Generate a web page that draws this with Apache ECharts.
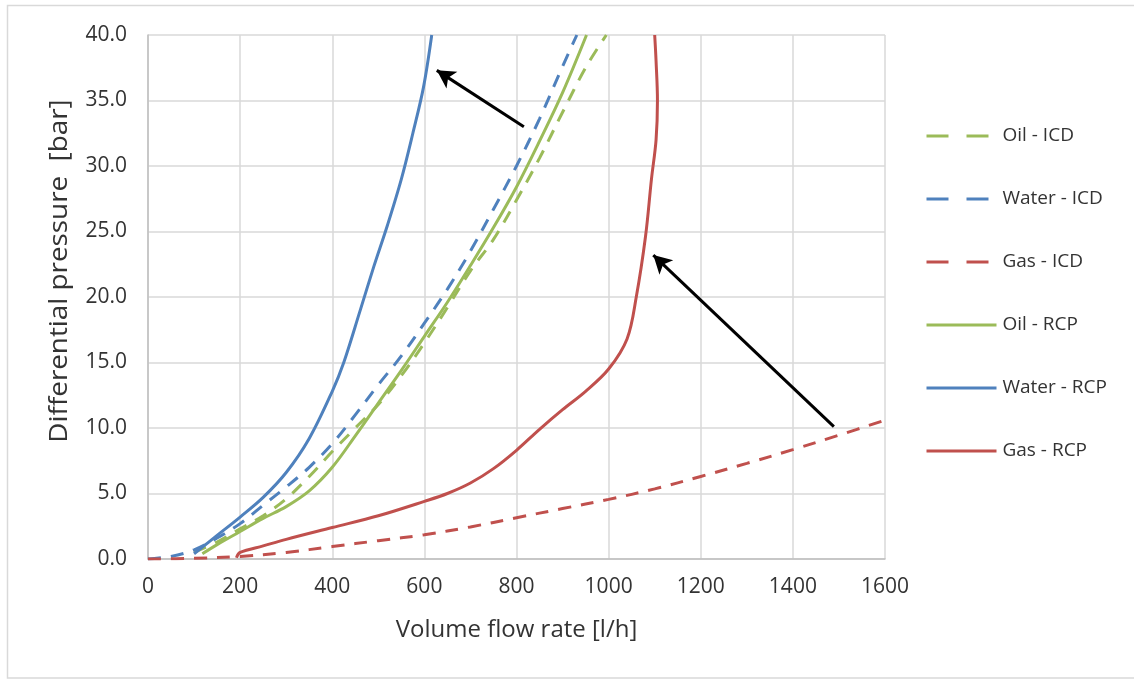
<!DOCTYPE html>
<html>
<head>
<meta charset="utf-8">
<script src="https://cdn.jsdelivr.net/npm/echarts@6/dist/echarts.min.js"></script>
<style>
  html, body { margin: 0; padding: 0; background: #ffffff; }
  #chart { width: 1134px; height: 680px; }
</style>
</head>
<body>
<div id="chart"></div>
<script>
// Volume flow rate [l/h] vs differential pressure [bar]
const oilICD = [[100,0.5],[150,1.3],[200,2.3],[250,3.3],[300,4.6],[350,6.3],[400,8.2],[450,10.0],[500,11.8],[550,14.0],[600,16.5],[650,19.2],[700,22.0],[750,24.4],[800,27.4],[850,30.6],[900,34.1],[950,37.5],[995,40.0]];
const waterICD = [[0,0],[50,0.2],[100,0.7],[150,1.6],[200,2.7],[250,4.1],[300,5.5],[350,7.0],[400,8.8],[450,11.0],[500,13.3],[550,15.5],[600,18.0],[650,20.6],[700,23.5],[750,26.7],[800,30.0],[850,33.6],[900,37.6],[931,40.0]];
const gasICD = [[0,0],[100,0.05],[200,0.2],[300,0.5],[400,0.95],[500,1.4],[600,1.85],[700,2.45],[800,3.15],[900,3.85],[1000,4.55],[1100,5.35],[1200,6.3],[1300,7.3],[1400,8.35],[1500,9.45],[1600,10.6]];
const oilRCP = [[118,0.4],[150,1.1],[200,2.1],[250,3.1],[300,4.0],[350,5.2],[400,7.0],[450,9.4],[500,11.9],[550,14.4],[600,17.0],[650,19.6],[700,22.4],[750,25.3],[800,28.4],[850,31.9],[900,35.6],[952,40.0]];
const waterRCP = [[100,0.4],[150,1.8],[200,3.2],[250,4.7],[300,6.6],[350,9.2],[400,12.8],[425,15.0],[460,18.9],[490,22.3],[520,25.5],[550,29.0],[575,32.5],[598,36.0],[616,40.0]];
const gasRCP = [[192,0.1],[200,0.5],[250,1.0],[300,1.5],[400,2.4],[500,3.3],[600,4.4],[650,5.0],[700,5.8],[750,6.9],[800,8.3],[850,9.9],[900,11.4],[950,12.8],[1000,14.5],[1040,16.8],[1060,20.0],[1080,24.6],[1093,29.0],[1103,32.0],[1106,35.0],[1103,38.0],[1100,40.0]];

// annotation arrows: [tail, head] in axis units
const arrowWater = [[816,33.0],[627,37.3]];
const arrowGas = [[1489,10.1],[1097,23.2]];

const xTicks = { min: 0, max: 1600, step: 200 };
const yTicks = { min: 0, max: 40, step: 5 };
const legendNames = ['Oil - ICD','Water - ICD','Gas - ICD','Oil - RCP','Water - RCP','Gas - RCP'];
const xTitle = 'Volume flow rate [l/h]';
const yTitle = 'Differential pressure  [bar]';

const GREEN = '#9BBB59', BLUE = '#4F81BD', RED = '#C0504D';
const FONT = '"Open Sans"';
const TXT = '#333333';
const DASH = [13, 10];
const LEGEND_DASH = [22, 18];

function lineSeries(name, data, color, dashed) {
  return {
    name: name, type: 'line', data: data,
    showSymbol: false, symbol: 'none', smooth: 0.35,
    lineStyle: { color: color, width: 3, type: dashed ? DASH : 'solid', cap: 'butt' },
    itemStyle: { color: color },
    emphasis: { disabled: true },
    z: dashed ? 2 : 3
  };
}

function arrowLine(pts) {
  return [{ coord: pts[0] }, { coord: pts[1] }];
}

// legend entries: ICD entries dashed, RCP entries solid
const legendData = legendNames.map(n => ({
  name: n,
  lineStyle: { width: 3, type: n.indexOf('ICD') >= 0 ? LEGEND_DASH : 'solid' }
}));

const chart = echarts.init(document.getElementById('chart'), null, { renderer: 'canvas' });
chart.setOption({
  animation: false,
  backgroundColor: '#ffffff',
  textStyle: { fontFamily: FONT },
  graphic: [{
    type: 'rect', silent: true, z: -10,
    shape: { x: 7.5, y: 5.5, width: 1140, height: 672.5 },
    style: { fill: 'none', stroke: '#d9d9d9', lineWidth: 1.5 }
  }, {
    type: 'text', silent: true,
    x: 60, y: 271, rotation: Math.PI / 2, scaleX: 1.07,
    style: { text: yTitle, fontFamily: FONT, fontSize: 26, fill: TXT, align: 'center', verticalAlign: 'middle' }
  }],
  grid: { left: 148, top: 35, right: 249, bottom: 121, containLabel: false },
  legend: {
    data: legendData,
    orient: 'vertical',
    left: 920, top: 121,
    itemWidth: 70, itemHeight: 14, itemGap: 43,
    itemStyle: { opacity: 0 },
    lineStyle: { width: 3 },
    textStyle: { fontFamily: FONT, fontSize: 19, color: TXT, lineHeight: 20, padding: [0,0,0,1] },
    selectedMode: false
  },
  xAxis: {
    type: 'value', min: xTicks.min, max: xTicks.max, interval: xTicks.step,
    name: xTitle, nameLocation: 'middle', nameGap: 59,
    nameTextStyle: { fontFamily: FONT, fontSize: 24, color: TXT },
    axisLine: { show: true, lineStyle: { color: '#bfbfbf', width: 1.5 } },
    axisTick: { show: false },
    axisLabel: { fontFamily: FONT, fontSize: 21, color: TXT, margin: 18, formatter: v => String(v) },
    splitLine: { show: true, lineStyle: { color: '#d9d9d9', width: 1.5 } }
  },
  yAxis: {
    type: 'value', min: yTicks.min, max: yTicks.max, interval: yTicks.step,
    axisLine: { show: true, lineStyle: { color: '#bfbfbf', width: 1.5 } },
    axisTick: { show: false },
    axisLabel: { fontFamily: FONT, fontSize: 21, color: TXT, margin: 21, formatter: v => v.toFixed(1) },
    splitLine: { show: true, lineStyle: { color: '#d9d9d9', width: 1.5 } }
  },
  series: [
    lineSeries('Oil - ICD', oilICD, GREEN, true),
    lineSeries('Water - ICD', waterICD, BLUE, true),
    lineSeries('Gas - ICD', gasICD, RED, true),
    lineSeries('Oil - RCP', oilRCP, GREEN, false),
    lineSeries('Water - RCP', waterRCP, BLUE, false),
    lineSeries('Gas - RCP', gasRCP, RED, false),
    {
      name: 'arrows', type: 'line', data: [], silent: true, z: 5,
      markLine: {
        silent: true, animation: false,
        symbol: ['none', 'arrow'], symbolSize: [15, 18],
        label: { show: false },
        lineStyle: { color: '#000000', width: 3, type: 'solid' },
        emphasis: { disabled: true },
        data: [arrowLine(arrowWater), arrowLine(arrowGas)]
      }
    }
  ]
});
</script>
</body>
</html>
